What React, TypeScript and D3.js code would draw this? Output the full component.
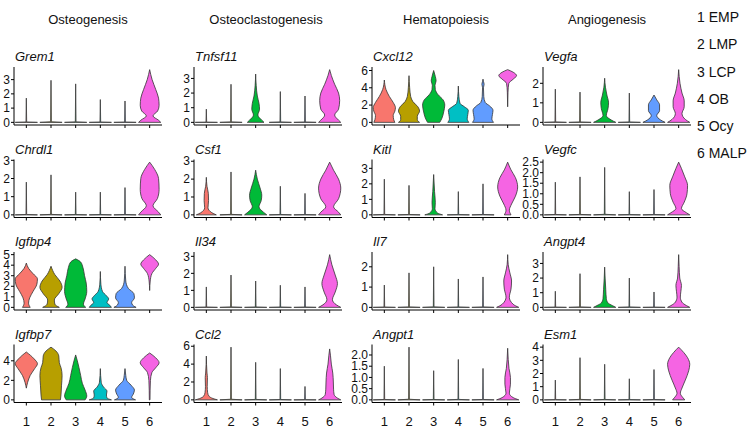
import React from "react";
import * as d3 from "d3";

type Prof = [number, number][];
type Vio = number | Prof;

const categories = ["1", "2", "3", "4", "5", "6"];
const clusterNames = ["1 EMP", "2 LMP", "3 LCP", "4 OB", "5 Ocy", "6 MALP"];
const pathways = ["Osteogenesis", "Osteoclastogenesis", "Hematopoiesis", "Angiogenesis"];
const colors = ["#F8766D", "#B79F00", "#00BA38", "#00BFC4", "#619CFF", "#F564E3"];

// each violin: a number = max of a collapsed (mostly zero) violin, or a profile of [value, relative width]
const grem1: Vio[] = [1.7, 2.95, 2.7, 1.6, 1.5,
  [[0, 1], [0.15, 0.8], [0.45, 0.3], [0.8, 0.72], [1.2, 0.85], [1.7, 0.8], [2.3, 0.55], [3.0, 0.22], [3.7, 0]]];
const grem1Ticks = [0, 1, 2, 3];

const chrdl1: Vio[] = [1.8, 2.2, 1.25, 1.25, 1.5,
  [[0, 1], [0.15, 0.8], [0.5, 0.3], [0.9, 0.7], [1.4, 0.85], [2.0, 0.8], [2.5, 0.45], [2.9, 0]]];
const chrdl1Ticks = [0, 1, 2, 3];

const igfbp4: Vio[] = [
  [[0, 0.35], [0.4, 0.2], [0.9, 0.3], [1.5, 0.6], [2.2, 0.95], [2.7, 1.0], [3.2, 0.6], [3.7, 0.2], [4.2, 0]],
  [[0, 0.75], [0.3, 0.35], [0.7, 0.3], [1.3, 0.7], [1.9, 1.0], [2.5, 0.8], [3.1, 0.35], [3.9, 0]],
  [[0, 0.9], [0.3, 0.7], [0.8, 0.85], [1.5, 1.0], [2.3, 0.95], [3.0, 0.8], [3.8, 0.65], [4.3, 0.45], [4.6, 0]],
  [[0, 1.0], [0.2, 0.85], [0.45, 0.6], [0.8, 0.75], [1.1, 0.55], [1.5, 0.2], [2.2, 0.05], [3.4, 0]],
  [[0, 1.0], [0.2, 0.7], [0.45, 0.6], [0.9, 0.85], [1.3, 0.8], [1.8, 0.3], [2.5, 0.07], [3.9, 0]],
  [[1.6, 0], [2.5, 0.05], [3.2, 0.2], [3.7, 0.55], [4.1, 0.8], [4.5, 0.55], [5.0, 0]]];
const igfbp4Ticks = [0, 1, 2, 3, 4, 5];

const igfbp7: Vio[] = [
  [[1.2, 0], [1.8, 0.12], [2.5, 0.35], [3.2, 0.75], [3.7, 1.0], [4.2, 0.7], [4.9, 0]],
  [[0, 0.85], [0.5, 0.9], [1.5, 0.95], [2.5, 1.0], [3.3, 0.9], [3.8, 0.75], [4.5, 0.7], [5.0, 0.45], [5.4, 0]],
  [[0, 0.85], [0.4, 1.0], [1.0, 0.85], [1.7, 0.6], [2.5, 0.45], [3.3, 0.3], [4.0, 0.15], [4.6, 0]],
  [[0, 1.0], [0.2, 0.6], [0.5, 0.55], [0.9, 0.6], [1.3, 0.3], [1.8, 0.08], [3.2, 0]],
  [[0, 0.95], [0.25, 0.6], [0.6, 0.75], [1.0, 0.85], [1.5, 0.55], [2.0, 0.15], [2.5, 0.07], [3.2, 0]],
  [[0, 0.03], [1.0, 0.04], [2.0, 0.07], [2.8, 0.2], [3.3, 0.55], [3.8, 0.85], [4.3, 0.55], [4.8, 0]]];
const igfbp7Ticks = [0, 2, 4];

const tnfsf11: Vio[] = [0.9, 2.6,
  [[0, 0.75], [0.15, 0.55], [0.5, 0.2], [0.9, 0.35], [1.3, 0.3], [1.8, 0.15], [2.5, 0.05], [3.3, 0]],
  2.1, 1.8,
  [[0, 1], [0.15, 0.8], [0.5, 0.45], [0.9, 0.8], [1.5, 0.9], [2.0, 0.8], [2.6, 0.45], [3.2, 0.15], [3.6, 0]]];
const tnfsf11Ticks = [0, 1, 2, 3];

const csf1: Vio[] = [
  [[0, 0.9], [0.12, 0.5], [0.4, 0.15], [0.8, 0.2], [1.2, 0.18], [1.6, 0.06], [2.1, 0]],
  2.4,
  [[0, 1], [0.15, 0.7], [0.45, 0.3], [0.8, 0.5], [1.1, 0.55], [1.5, 0.4], [2.0, 0.15], [2.5, 0]],
  1.6, 1.2,
  [[0, 1], [0.15, 0.8], [0.45, 0.35], [0.9, 0.8], [1.5, 1.0], [2.0, 0.8], [2.5, 0.35], [2.95, 0]]];
const csf1Ticks = [0, 1, 2, 3];

const il34: Vio[] = [1.2, 1.9, 1.55, 1.3, 1.2,
  [[0, 1], [0.15, 0.6], [0.45, 0.25], [0.9, 0.5], [1.4, 0.7], [1.9, 0.5], [2.5, 0.2], [3.1, 0]]];
const il34Ticks = [0, 1, 2, 3];

const ccl2: Vio[] = [
  [[0, 1], [0.15, 0.6], [0.4, 0.25], [0.8, 0.12], [1.5, 0.08], [2.5, 0.1], [3.0, 0.06], [4.9, 0]],
  5.9, 4.2, 3.5, 1.5,
  [[0, 1], [0.2, 0.7], [0.6, 0.4], [1.2, 0.35], [2.0, 0.33], [3.0, 0.28], [4.0, 0.15], [5.0, 0.07], [5.7, 0]]];
const ccl2Ticks = [0, 2, 4, 6];

const cxcl12: Vio[] = [
  [[0, 0.95], [0.3, 0.85], [0.8, 0.8], [1.3, 0.95], [1.7, 1.0], [2.3, 0.8], [3.0, 0.45], [3.8, 0.15], [4.9, 0]],
  [[0, 0.95], [0.3, 0.75], [0.7, 0.75], [1.3, 0.95], [1.8, 0.8], [2.4, 0.35], [3.0, 0.15], [4.0, 0.06], [5.4, 0]],
  [[0, 0.55], [0.5, 0.75], [1.2, 0.9], [2.0, 1.0], [2.6, 0.85], [3.2, 0.4], [3.8, 0.15], [4.3, 0.12], [4.8, 0.22], [5.3, 0.15], [6.0, 0]],
  [[0, 0.95], [0.4, 0.8], [0.9, 0.85], [1.4, 0.9], [1.8, 0.55], [2.2, 0.15], [3.0, 0.05], [4.2, 0]],
  [[0, 0.95], [0.4, 0.8], [0.9, 0.85], [1.4, 0.9], [1.9, 0.6], [2.3, 0.2], [3.0, 0.07], [4.0, 0.04], [4.4, 0.1], [4.7, 0.05], [5.0, 0]],
  [[1.8, 0], [3.5, 0.03], [4.5, 0.1], [5.0, 0.5], [5.4, 0.8], [5.8, 0.5], [6.1, 0]]];
const cxcl12Ticks = [0, 2, 4, 6];

const kitl: Vio[] = [2.3, 1.9,
  [[0, 0.8], [0.12, 0.35], [0.4, 0.12], [0.8, 0.15], [1.5, 0.08], [2.6, 0]],
  1.5, 2.0,
  [[0, 0.3], [0.3, 0.15], [0.7, 0.35], [1.2, 0.7], [1.8, 0.9], [2.4, 0.7], [2.9, 0.3], [3.4, 0]]];
const kitlTicks = [0, 1, 2, 3];

const il7: Vio[] = [1.1, 1.7, 2.0, 1.4, 1.5,
  [[0, 1], [0.15, 0.5], [0.5, 0.15], [0.9, 0.3], [1.3, 0.35], [1.7, 0.2], [2.1, 0.05], [2.6, 0]]];
const il7Ticks = [0, 1, 2];

const angpt1: Vio[] = [1.5, 2.35, 1.3, 1.8, 1.4,
  [[0, 1], [0.1, 0.5], [0.3, 0.15], [0.7, 0.25], [1.0, 0.25], [1.4, 0.12], [1.8, 0.05], [2.3, 0]]];
const angpt1Ticks = [0, 0.5, 1, 1.5, 2];

const vegfa: Vio[] = [1.7, 1.55,
  [[0, 1.0], [0.12, 0.6], [0.35, 0.15], [0.7, 0.3], [1.0, 0.35], [1.4, 0.2], [1.8, 0.07], [2.26, 0]],
  1.5,
  [[0, 1.0], [0.12, 0.6], [0.35, 0.25], [0.6, 0.5], [0.9, 0.5], [1.15, 0.25], [1.4, 0]],
  [[0, 1.0], [0.15, 0.6], [0.45, 0.3], [0.8, 0.5], [1.1, 0.5], [1.5, 0.3], [2.0, 0.12], [2.7, 0]]];
const vegfaTicks = [0, 1, 2];

const vegfc: Vio[] = [1.55, 1.8, 2.25, 1.1, 1.2,
  [[0, 1], [0.1, 0.7], [0.3, 0.25], [0.6, 0.5], [1.0, 0.75], [1.4, 0.8], [1.8, 0.55], [2.2, 0.25], [2.5, 0]]];
const vegfcTicks = [0, 0.5, 1, 1.5, 2, 2.5];

const angpt4: Vio[] = [1.1, 2.3,
  [[0, 1], [0.12, 0.7], [0.3, 0.3], [0.6, 0.15], [1.2, 0.1], [2.0, 0.04], [2.75, 0]],
  2.0, 1.05,
  [[0, 1], [0.12, 0.7], [0.35, 0.3], [0.7, 0.15], [1.1, 0.2], [1.5, 0.25], [2.0, 0.1], [2.8, 0.04], [3.6, 0]]];
const angpt4Ticks = [0, 1, 2, 3];

const esm1: Vio[] = [1.5, 3.2, 2.7, 1.6, 2.3,
  [[0, 0.55], [0.2, 0.35], [0.5, 0.15], [0.9, 0.3], [1.5, 0.6], [2.2, 0.9], [2.7, 1.0], [3.2, 0.8], [3.6, 0.45], [4.0, 0]]];
const esm1Ticks = [0, 1, 2, 3, 4];

// columns (pathways) x rows
const geneNames = [
  ["Grem1", "Chrdl1", "Igfbp4", "Igfbp7"],
  ["Tnfsf11", "Csf1", "Il34", "Ccl2"],
  ["Cxcl12", "Kitl", "Il7", "Angpt1"],
  ["Vegfa", "Vegfc", "Angpt4", "Esm1"],
];
const geneValues = [
  [grem1, chrdl1, igfbp4, igfbp7],
  [tnfsf11, csf1, il34, ccl2],
  [cxcl12, kitl, il7, angpt1],
  [vegfa, vegfc, angpt4, esm1],
];
const geneTicks = [
  [grem1Ticks, chrdl1Ticks, igfbp4Ticks, igfbp7Ticks],
  [tnfsf11Ticks, csf1Ticks, il34Ticks, ccl2Ticks],
  [cxcl12Ticks, kitlTicks, il7Ticks, angpt1Ticks],
  [vegfaTicks, vegfcTicks, angpt4Ticks, esm1Ticks],
];

const W = 750;
const H = 429;
const colLeft = [14, 194, 372, 543];
const panelW = 148;
const rowTop0 = 67;
const rowStep = 92.5;
const panelH = 58;
const titleX = [88, 266, 446, 607];
const FONT = "'Liberation Sans', Arial, Helvetica, sans-serif";

function Panel({ col, row }: { col: number; row: number }) {
  const left = colLeft[col];
  const top = rowTop0 + row * rowStep;
  const bottom = top + panelH;
  const vals = geneValues[col][row];
  const ticks = geneTicks[col][row];
  const max = d3.max(vals, (v) => (typeof v === "number" ? v : (d3.max(v, (p) => p[0]) as number))) as number;
  const y = d3.scaleLinear().domain([-0.05 * max, 1.05 * max]).range([bottom, top]);
  const x = d3.scaleBand().domain(categories).range([left, left + panelW]);
  const hw = x.bandwidth() * 0.45;
  const decimals = ticks.some((t) => !Number.isInteger(t));
  const fmt = decimals ? d3.format(".1f") : d3.format("d");

  return (
    <g>
      <text x={left + 1} y={top - 6} fontSize={13} fontStyle="italic" fontFamily={FONT} fill="#111">
        {geneNames[col][row]}
      </text>
      {vals.map((v, i) => {
        const cx = (x(categories[i]) as number) + x.bandwidth() / 2;
        const isLine = typeof v === "number";
        const prof: Prof = isLine ? [[0, 1], [(v as number) * 0.012, 0.03], [v as number, 0]] : (v as Prof);
        const area = d3
          .area<[number, number]>()
          .y((d) => y(d[0]))
          .x0((d) => cx - hw * d[1])
          .x1((d) => cx + hw * d[1])
          .curve(isLine ? d3.curveLinear : d3.curveMonotoneY);
        return (
          <path
            key={i}
            d={area(prof) || ""}
            fill={colors[i]}
            stroke={isLine ? "#444" : "#333"}
            strokeWidth={isLine ? 0.9 : 0.8}
            strokeLinejoin="round"
          />
        );
      })}
      {/* y axis */}
      <line x1={left} x2={left} y1={top} y2={bottom} stroke="#000" strokeWidth={1} />
      {ticks.map((t) => (
        <g key={t}>
          <line x1={left - 3} x2={left} y1={y(t)} y2={y(t)} stroke="#000" strokeWidth={1} />
          <text
            x={left - 4}
            y={y(t)}
            dy="0.35em"
            textAnchor="end"
            fontSize={12}
            fontFamily={FONT}
            fill="#111"
          >
            {fmt(t)}
          </text>
        </g>
      ))}
      {/* x axis */}
      <line x1={left} x2={left + panelW} y1={bottom} y2={bottom} stroke="#000" strokeWidth={1} />
      {categories.map((c) => {
        const cx = (x(c) as number) + x.bandwidth() / 2;
        return (
          <g key={c}>
            <line x1={cx} x2={cx} y1={bottom} y2={bottom + 3} stroke="#000" strokeWidth={1} />
            {row === 3 && (
              <text x={cx} y={bottom + 19} dy="0.35em" textAnchor="middle" fontSize={13} fontFamily={FONT} fill="#111">
                {c}
              </text>
            )}
          </g>
        );
      })}
    </g>
  );
}

export default function App() {
  return (
    <svg width={W} height={H} style={{ position: "absolute", left: 0, top: 0, background: "#fff" }}>
      <rect width={W} height={H} fill="#fff" />
      {pathways.map((p, i) => (
        <text key={p} x={titleX[i]} y={19} dy="0.35em" textAnchor="middle" fontSize={13} fontFamily={FONT} fill="#111">
          {p}
        </text>
      ))}
      {clusterNames.map((n, i) => (
        <text key={n} x={697} y={17 + i * 27.3} dy="0.35em" fontSize={14} fontFamily={FONT} fill="#111">
          {n}
        </text>
      ))}
      {geneNames.map((colGenes, c) => colGenes.map((_, r) => <Panel key={c + "-" + r} col={c} row={r} />))}
    </svg>
  );
}
